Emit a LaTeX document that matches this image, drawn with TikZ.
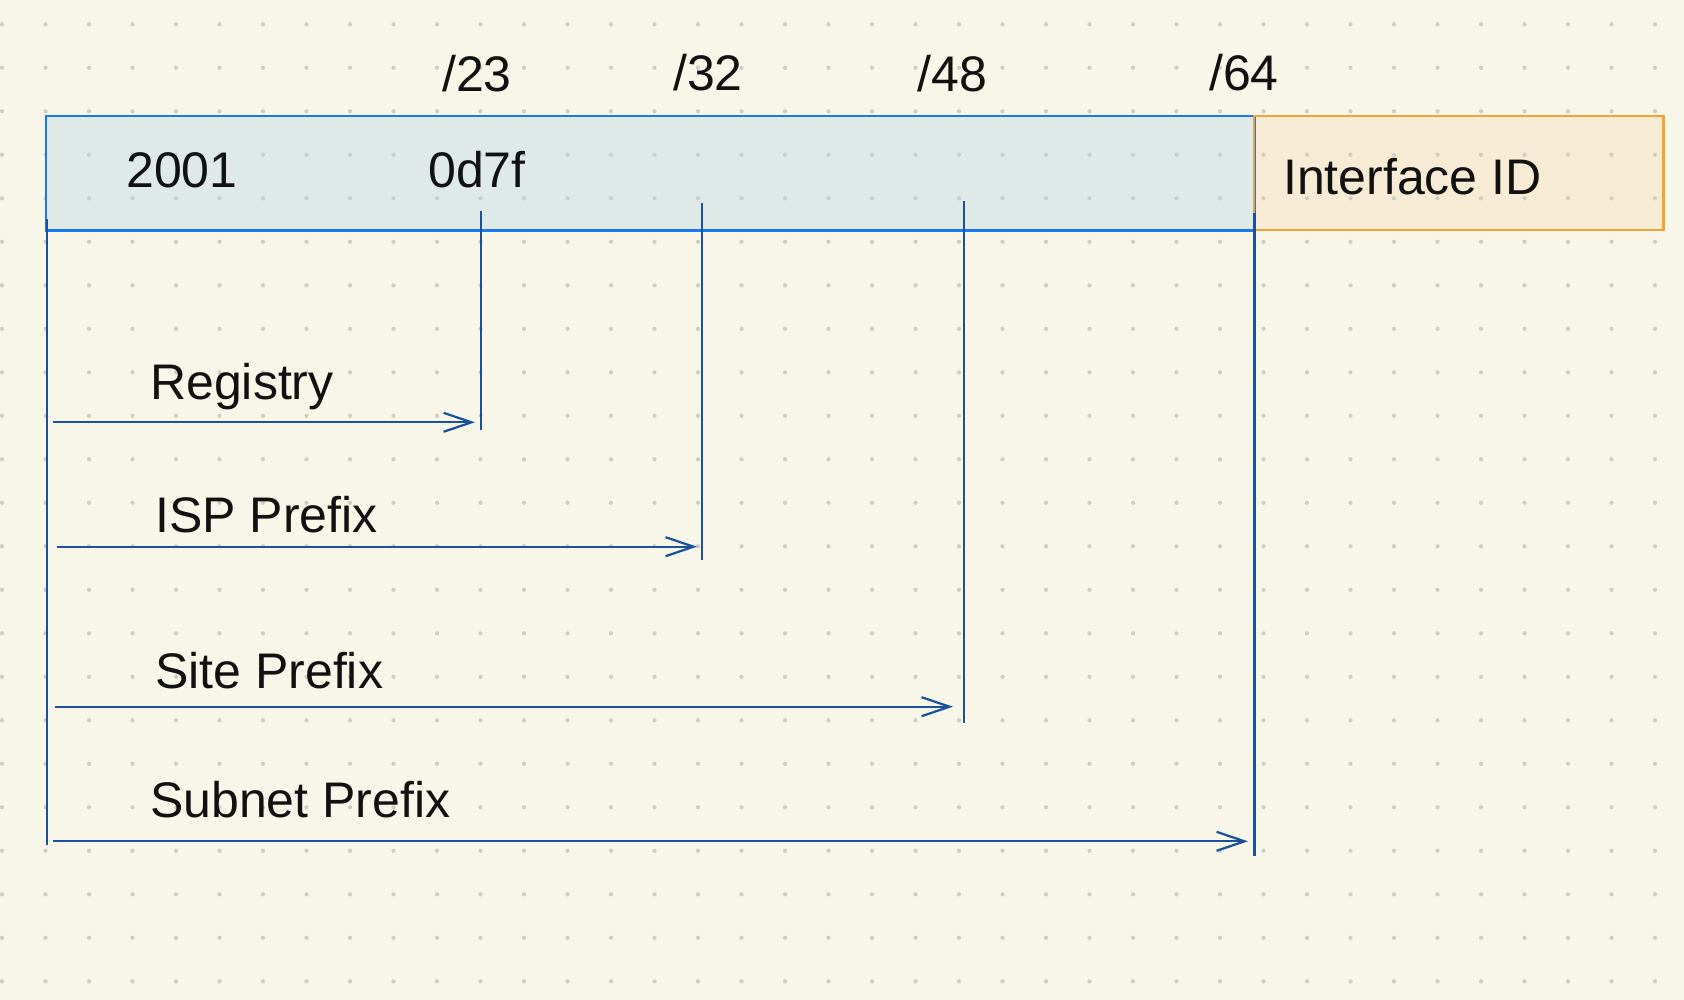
\documentclass[tikz,border=0pt]{standalone}
\usepackage{fontspec}
\setmainfont{Liberation Sans}
\usetikzlibrary{arrows.meta}
\definecolor{bg}{RGB}{248,245,233}
\definecolor{dotc}{RGB}{206,204,196}
\definecolor{pfill}{RGB}{222,233,232}
\definecolor{pline}{RGB}{24,119,242}
\definecolor{ofill}{RGB}{247,235,213}
\definecolor{oline}{RGB}{244,163,50}
\definecolor{conn}{RGB}{26,80,158}
\definecolor{txt}{RGB}{17,17,17}
\begin{document}
\begin{tikzpicture}[x=1pt,y=-1pt,
  lbl/.style={inner sep=0pt, font=\fontsize{50}{60}\selectfont, text=txt},
  boxfill/.style={inner sep=0pt, anchor=north west, minimum height=114pt},
  tickline/.style={draw=conn, line width=2.2pt},
  spanarrow/.style={draw=conn, line width=2pt, -{Straight Barb[length=28pt,width=19pt,line width=2.2pt]}},
]
\fill[bg] (0,0) rectangle (1684,1000);
\useasboundingbox (0,0) rectangle (1684,1000);

% boxes (fill)
\node[boxfill, fill=pfill, minimum width=1208pt] (prefix) at (46,116) {};
\node[boxfill, fill=ofill, minimum width=409pt] (iid) at (1254,116) {};

% dot grid
\foreach \i in {0,...,38}
  \foreach \j in {0,...,22}
    \fill[dotc] ({2+43.5*\i},{24.3+43.5*\j}) circle[radius=2.1pt];

% box borders
\draw[pline, line width=2.5pt] (prefix.north west) rectangle (prefix.south east);
\draw[oline, line width=2.2pt] (iid.north west) rectangle (iid.south east);

% top labels
\node[lbl, anchor=base] (l23) at (477,92) {/23};
\node[lbl, anchor=base] (l32) at (708,91) {/32};
\node[lbl, anchor=base] (l48) at (952.5,92) {/48};
\node[lbl, anchor=base] (l64) at (1244,91) {/64};

% box texts
\node[lbl, anchor=base] (t2001) at (182,188) {2001};
\node[lbl, anchor=base] (t0d7f) at (477,188) {0d7f};
\node[lbl, anchor=base west] (tiid) at (1283,195) {Interface ID};

% vertical tick lines
\coordinate (v0a) at (47,219);   \coordinate (v0b) at (47,845);
\coordinate (v23a) at (481,211); \coordinate (v23b) at (481,429.5);
\coordinate (v32a) at (702,203); \coordinate (v32b) at (702,560);
\coordinate (v48a) at (964,201); \coordinate (v48b) at (964,722.5);
\coordinate (v64a) at (1254.5,213); \coordinate (v64b) at (1254.5,856);
\draw[tickline] (v0a) -- (v0b);
\draw[tickline] (v23a) -- (v23b);
\draw[tickline] (v32a) -- (v32b);
\draw[tickline] (v48a) -- (v48b);
\draw[tickline] (v64a) -- (v64b);

% span arrows
\coordinate (a1s) at (53.3,422.3); \coordinate (a1e) at (475,422.3);
\coordinate (a2s) at (56.7,546.7); \coordinate (a2e) at (697,546.7);
\coordinate (a3s) at (55,706.7);   \coordinate (a3e) at (953,706.7);
\coordinate (a4s) at (53,841.3);   \coordinate (a4e) at (1248,841.3);
\draw[spanarrow] (a1s) -- (a1e);
\draw[spanarrow] (a2s) -- (a2e);
\draw[spanarrow] (a3s) -- (a3e);
\draw[spanarrow] (a4s) -- (a4e);

% span labels
\node[lbl, anchor=base west] (lreg) at (150,399) {Registry};
\node[lbl, anchor=base west] (lisp) at (155,532) {ISP Prefix};
\node[lbl, anchor=base west] (lsite) at (155,688) {Site Prefix};
\node[lbl, anchor=base west] (lsub) at (150,817) {Subnet Prefix};
\end{tikzpicture}
\end{document}
